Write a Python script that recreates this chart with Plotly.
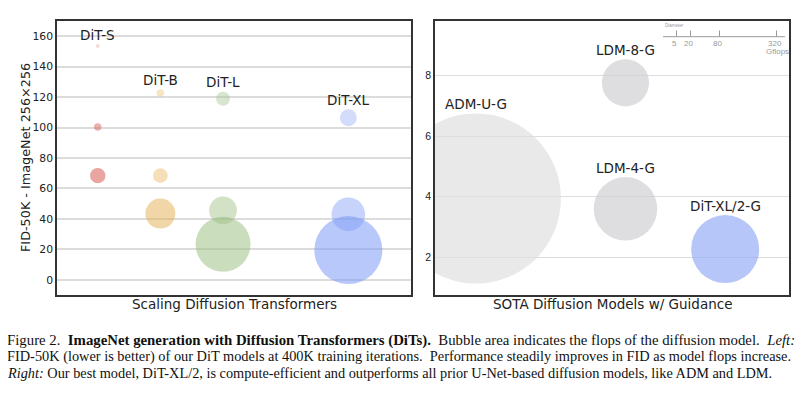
import math
import plotly.graph_objects as go

# ---------------- data ----------------
# Left panel: DiT model families, each with patch sizes 8, 4, 2
families = ["DiT-S", "DiT-B", "DiT-L", "DiT-XL"]
family_pos = [1, 2, 3, 5]
fid_S = [153.6, 100.4, 68.4]
fid_B = [122.7, 68.4, 43.5]
fid_L = [118.9, 45.6, 23.3]
fid_XL = [106.4, 43.0, 19.5]
gflops_S = [0.36, 1.41, 6.06]
gflops_B = [1.42, 5.56, 23.01]
gflops_L = [5.01, 19.70, 77.54]
gflops_XL = [7.39, 29.05, 118.64]

# Right panel: SOTA guided models
sota_models = ["ADM-U-G", "LDM-8-G", "LDM-4-G", "DiT-XL/2-G"]
sota_pos = [0, 1.5, 1.5, 2.5]
sota_fid = [3.94, 7.76, 3.60, 2.27]
sota_gflops = [742, 57.2, 103.6, 118.64]

left_yticks = [0, 20, 40, 60, 80, 100, 120, 140, 160]
right_yticks = [2, 4, 6, 8]
legend_gflops = [5, 20, 80, 320]

# ---------------- styling ----------------
W, H = 807, 396
OFF = 8  # page body margin
SIZEREF = 0.0513
LBL = 13.5


def radius(g):
    return math.sqrt(g / (2 * SIZEREF))


def px(x):
    return (x - OFF) / W


def py(y):
    return 1 - (y - OFF) / H


fam_colors = {
    "DiT-S": ["rgba(215,95,85,0.35)", "rgba(215,95,85,0.7)", "rgba(215,95,85,0.8)"],
    "DiT-B": ["rgba(236,190,110,0.6)", "rgba(236,190,110,0.7)", "rgba(228,178,90,0.75)"],
    "DiT-L": ["rgba(165,195,140,0.6)", "rgba(165,195,140,0.7)", "rgba(155,190,130,0.75)"],
    "DiT-XL": ["rgba(140,165,245,0.55)", "rgba(140,165,245,0.7)", "rgba(125,155,245,0.78)"],
}
sota_colors = ["rgba(222,222,224,0.95)", "rgba(205,205,210,0.95)",
               "rgba(205,205,210,0.95)", "rgba(140,165,245,0.9)"]

fig = go.Figure()

fids = [fid_S, fid_B, fid_L, fid_XL]
flops = [gflops_S, gflops_B, gflops_L, gflops_XL]
annotations = []
for fam, xpos, fv, gv in zip(families, family_pos, fids, flops):
    fig.add_trace(go.Scatter(
        x=[xpos] * len(fv), y=fv, mode="markers",
        marker=dict(size=gv, sizemode="area", sizeref=SIZEREF,
                    color=fam_colors[fam], line=dict(width=0)),
        xaxis="x", yaxis="y", showlegend=False, hoverinfo="skip"))
    annotations.append(dict(
        x=xpos, y=fv[0], xref="x", yref="y", text=fam, showarrow=False,
        yanchor="middle", yshift=radius(gv[0]) + 9.5,
        font=dict(family="DejaVu Sans", size=LBL, color="#222")))

fig.add_trace(go.Scatter(
    x=sota_pos, y=sota_fid, mode="markers",
    marker=dict(size=sota_gflops, sizemode="area", sizeref=SIZEREF,
                color=sota_colors, line=dict(width=0)),
    xaxis="x2", yaxis="y2", showlegend=False, hoverinfo="skip"))
for name, xpos, fv, gv in zip(sota_models, sota_pos, sota_fid, sota_gflops):
    annotations.append(dict(
        x=xpos, y=fv, xref="x2", yref="y2", text=name, showarrow=False,
        yanchor="middle", yshift=radius(gv) + 9.5,
        font=dict(family="DejaVu Sans", size=LBL, color="#222")))

# Panel titles (below plots)
annotations.append(dict(x=(px(57) + px(411)) / 2, y=py(304), xref="paper", yref="paper",
                        text="Scaling Diffusion Transformers", showarrow=False,
                        xanchor="center", yanchor="middle",
                        font=dict(family="DejaVu Sans", size=LBL, color="#222")))
annotations.append(dict(x=(px(435) + px(789)) / 2, y=py(304), xref="paper", yref="paper",
                        text="SOTA Diffusion Models w/ Guidance", showarrow=False,
                        xanchor="center", yanchor="middle",
                        font=dict(family="DejaVu Sans", size=LBL, color="#222")))
# y-axis title (left panel)
annotations.append(dict(x=px(25), y=py(158), xref="paper", yref="paper",
                        text="FID-50K - ImageNet 256×256", showarrow=False, textangle=-90,
                        xanchor="center", yanchor="middle",
                        font=dict(family="DejaVu Sans", size=12.8, color="#222")))

# Size legend (top right of right panel)
shapes = []
leg_x = {5: 676.5, 20: 690.5, 80: 719.5, 320: 776.5}
shapes.append(dict(type="line", xref="paper", yref="paper",
                   x0=px(663), x1=px(785), y0=py(36.7), y1=py(36.7),
                   line=dict(color="#999", width=1)))
for g in legend_gflops:
    shapes.append(dict(type="line", xref="paper", yref="paper",
                       x0=px(leg_x[g]), x1=px(leg_x[g]), y0=py(30.5), y1=py(36.7),
                       line=dict(color="#999", width=1)))
    annotations.append(dict(x=px(leg_x[g] - 2), y=py(43.5), xref="paper", yref="paper",
                            text=str(g), showarrow=False, xanchor="center", yanchor="middle",
                            font=dict(family="Liberation Sans", size=8, color="#999")))
annotations.append(dict(x=px(777), y=py(51.5), xref="paper", yref="paper",
                        text="Gflops", showarrow=False, xanchor="center", yanchor="middle",
                        font=dict(family="Liberation Sans", size=8, color="#999")))
annotations.append(dict(x=px(663), y=py(25), xref="paper", yref="paper",
                        text="Diameter", showarrow=False, xanchor="left", yanchor="middle",
                        font=dict(family="Liberation Sans", size=4.5, color="#999")))

# Caption
cap_sizes = [14.8, 14.35, 14.3]
cap_lines = [
    "Figure 2.  <b>ImageNet generation with Diffusion Transformers (DiTs).</b>  Bubble area indicates the flops of the diffusion model.  <i>Left:</i>",
    "FID-50K (lower is better) of our DiT models at 400K training iterations.  Performance steadily improves in FID as model flops increase.",
    "<i>Right:</i> Our best model, DiT-XL/2, is compute-efficient and outperforms all prior U-Net-based diffusion models, like ADM and LDM.",
]
for i, line in enumerate(cap_lines):
    annotations.append(dict(x=px(5), y=py(340 + 16.5 * i), xref="paper", yref="paper",
                            text=line, showarrow=False, xanchor="left", yanchor="middle",
                            font=dict(family="Liberation Serif", size=cap_sizes[i], color="#111")))

axis_common = dict(showline=True, mirror=True, linecolor="#333", linewidth=1.5,
                   zeroline=False, ticks="", automargin=False)

fig.update_layout(
    width=W, height=H,
    margin=dict(l=0, r=0, t=0, b=0, autoexpand=False),
    paper_bgcolor="white", plot_bgcolor="white",
    xaxis=dict(domain=[px(57), px(411)], range=[0.35, 6.0], showgrid=False,
               showticklabels=False, anchor="y", **axis_common),
    yaxis=dict(domain=[py(295), py(21)], range=[-10, 170], tickvals=left_yticks,
               showgrid=True, gridcolor="#dcdcdc", gridwidth=1.5,
               tickfont=dict(family="DejaVu Sans", size=10.8, color="#222"),
               anchor="x", **axis_common),
    xaxis2=dict(domain=[px(435), px(789)], range=[-0.41, 3.14], showgrid=False,
                showticklabels=False, anchor="y2", **axis_common),
    yaxis2=dict(domain=[py(295), py(21)], range=[0.755, 9.8], tickvals=right_yticks,
                showgrid=True, gridcolor="#dddddd", gridwidth=1,
                tickfont=dict(family="Liberation Sans", size=10.5, color="#222"),
                anchor="x2", **axis_common),
    annotations=annotations,
    shapes=shapes,
)

fig.write_html("out.html")
